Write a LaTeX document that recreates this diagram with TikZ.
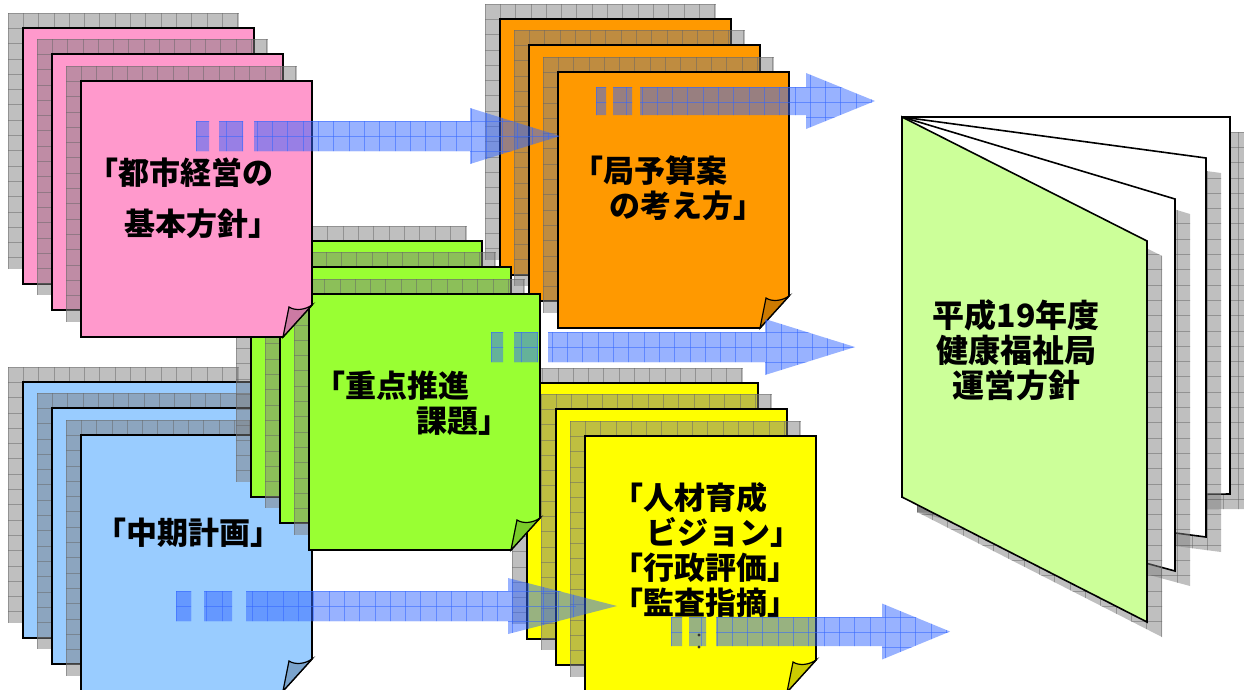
\documentclass[tikz,border=0pt]{standalone}
\usepackage{fontspec}
\setmainfont{Noto Sans CJK JP}
\usetikzlibrary{positioning}

\definecolor{notepink}{HTML}{FF99CC}
\definecolor{noteorange}{HTML}{FF9900}
\definecolor{notegreen}{HTML}{99FF33}
\definecolor{noteblue}{HTML}{99CCFF}
\definecolor{noteyellow}{HTML}{FFFF00}
\definecolor{covergreen}{HTML}{CCFF99}
\definecolor{beamblue}{HTML}{3366FF}

\tikzset{
  shadowgrid/.style={fill=gray, fill opacity=0.5},
  shadowgrid line/.style={draw=black!60, draw opacity=0.5, line width=0.7pt},
  arrowgrid/.style={fill=beamblue, fill opacity=0.5},
  arrowgrid line/.style={draw=beamblue, draw opacity=0.55, line width=0.8pt},
  paper/.style={draw=black, line width=1.6pt, line join=miter},
  notetext/.style={font=\fontsize{31}{35}\selectfont\bfseries, align=left, inner sep=0pt, anchor=west}
}

% filled patch with a square grid on top: style, path, x0, y0, width, height
\newcommand{\gridpatch}[6]{%
  \begin{scope}
    \fill[#1] #2;
    \clip #2;
    \foreach \gx in {0,15.3,...,#5}
      \draw[#1 line] ({#3+\gx},{#4}) -- ({#3+\gx},{#4+#6});
    \foreach \gy in {0,15.3,...,#6}
      \draw[#1 line] ({#3},{#4+\gy}) -- ({#3+#5},{#4+\gy});
  \end{scope}}

% three sheets, front sheet with curled corner: top left of front sheet, colour
\newcommand{\notestack}[2]{%
  \begin{scope}[shift={(#1)}]
    \foreach \dx/\dy in {-58/-53,-29/-27} {
      \gridpatch{shadowgrid}{({\dx-15},{\dy-15}) rectangle ++(231,256)}{\dx-15}{\dy-15}{231}{256}
      \filldraw[paper, fill=#2] (\dx,\dy) rectangle ++(231,256);
    }
    \gridpatch{shadowgrid}{(-15,-15) rectangle ++(231,256)}{-15}{-15}{231}{256}
    \filldraw[paper, fill=#2] (0,0) -- (231,0) -- (231,224) -- (202,256) -- (0,256) -- cycle;
    % curled corner
    \filldraw[paper, line width=1.2pt, fill=#2!80!black] (202,256) -- (208,226)
      .. controls (214,230) and (224,229) .. (231,224) -- cycle;
  \end{scope}}

% block arrow with broken tail: tail pieces, shaft start, head base, tip, shaft top, shaft bottom
\newcommand{\blockarrow}[9]{%
  \gridpatch{arrowgrid}{(#1,#8) rectangle (#2,#9) (#3,#8) rectangle (#4,#9)
    (#5,#8) -- (#6,#8) -- (#6,{(#8+#9)/2-28}) -- (#7,{(#8+#9)/2})
    -- (#6,{(#8+#9)/2+28}) -- (#6,#9) -- (#5,#9) -- cycle}{#1}{#8-30.6}{400}{95}}

\begin{document}
\begin{tikzpicture}[x=1pt, y=-1pt]
  \clip (0,0) rectangle (1244,689);
  \fill[white] (0,0) rectangle (1244,689);

  % sheet stacks, back to front
  \notestack{558,72}{noteorange}
  \notestack{585,436}{noteyellow}
  \notestack{81,435}{noteblue}
  \notestack{309,294}{notegreen}
  \notestack{81,81}{notepink}

  % booklet
  \foreach \xr/\yt/\yb/\col in {1230/117/494/white, 1206/158/537/white,
                               1175/199/571/white, 1147/241/622/covergreen} {
    \begin{scope}[shift={(15,15)}]
      \gridpatch{shadowgrid}{(902,117) -- (\xr,\yt) -- (\xr,\yb) -- (902,497) -- cycle}{902}{117}{340}{520}
    \end{scope}
    \filldraw[paper, fill=\col] (902,117) -- (\xr,\yt) -- (\xr,\yb) -- (902,497) -- cycle;
  }

  % texts
  \node[notetext, font=\fontsize{31}{51}\selectfont\bfseries] (toshi) at (87,198)
    {「都市経営の\\\hspace*{1.2em}基本方針」};
  \node[notetext] (yosan) at (572,188) {「局予算案\\\hspace*{1.2em}の考え方」};
  \node[notetext] (juten) at (314,403) {「重点推進\\\hspace*{3.3em}課題」};
  \node[notetext] (chuki) at (95,533) {「中期計画」};
  \node[notetext] (jinzai) at (612,550)
    {「人材育成\\\hspace*{1.1em}ビジョン」\\「行政評価」\\「監査指摘」};
  \node[notetext, font=\fontsize{32}{35}\selectfont\bfseries, align=center, anchor=center]
    (hoshin) at (1016,350) {平成19年度\\健康福祉局\\運営方針};

  % arrows
  \blockarrow{196}{209}{219}{243}{254}{470}{560}{121}{151}
  \blockarrow{596}{606}{613}{632}{640}{806}{875}{87}{115}
  \blockarrow{491}{503}{514}{538}{548}{765}{855}{332}{362}
  \blockarrow{176}{191}{204}{232}{246}{508}{617}{591}{621}
  \blockarrow{671}{682}{689}{706}{716}{882}{950}{617}{646}
  \fill[black!80] (699,635) circle (1.6) (699,647) circle (1.6);
\end{tikzpicture}
\end{document}
